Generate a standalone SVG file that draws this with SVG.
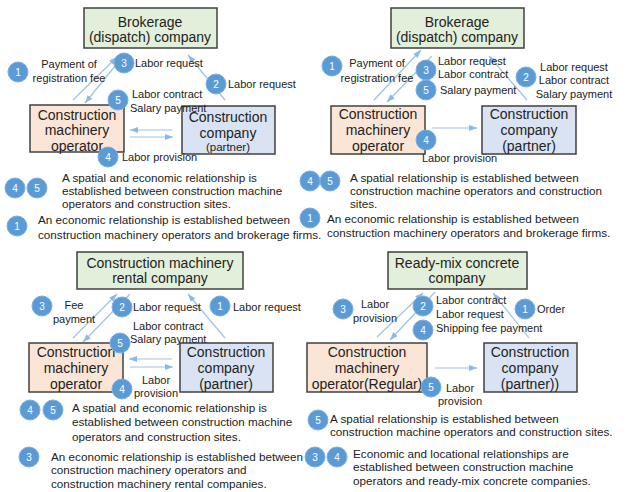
<svg xmlns="http://www.w3.org/2000/svg" width="628" height="492" viewBox="0 0 628 492">
<style>
text{font-family:"Liberation Sans",Arial,sans-serif;fill:#222}
.box{stroke:#404040;stroke-width:1.5}
.g{fill:#e2efda}.o{fill:#fbe5d6}.b{fill:#dae3f3}
.t{font-size:14px;text-anchor:middle}
.s{font-size:11.5px;text-anchor:middle}
.l{font-size:11px}
.n{font-size:11.7px}
.m{font-size:11px;text-anchor:middle}
.arr{stroke:#9dc3e6;stroke-width:1.2;fill:none;marker-end:url(#ah)}
.bd circle{fill:#5b9bd5;stroke:#7aaee0;stroke-width:1}
.bd text{fill:#fff;font-size:10px;text-anchor:middle}
</style>
<defs>
<marker id="ah" markerUnits="userSpaceOnUse" markerWidth="8" markerHeight="6" refX="8" refY="3" orient="auto">
<path d="M0,0 L8,3 L0,6 z" fill="#8db9e3"/>
</marker>
</defs>
<rect width="628" height="492" fill="#fff"/>

<g id="connectors">
<line class="arr" x1="73" y1="100" x2="117" y2="57"/>
<line class="arr" x1="120" y1="60" x2="85" y2="103"/>
<line class="arr" x1="225" y1="100" x2="188" y2="55"/>
<line class="arr" x1="172" y1="130" x2="130" y2="130"/>
<line class="arr" x1="130" y1="137" x2="173" y2="137"/>

<line class="arr" x1="374" y1="100" x2="421" y2="50"/>
<line class="arr" x1="432" y1="56" x2="387" y2="102"/>
<line class="arr" x1="527" y1="100" x2="489" y2="56"/>
<line class="arr" x1="432" y1="128" x2="477" y2="128"/>

<line class="arr" x1="73" y1="338" x2="117" y2="294"/>
<line class="arr" x1="130" y1="294" x2="83" y2="342"/>
<line class="arr" x1="225" y1="338" x2="188" y2="294"/>
<line class="arr" x1="172" y1="359" x2="129" y2="359"/>
<line class="arr" x1="130" y1="367" x2="173" y2="367"/>

<line class="arr" x1="377" y1="337" x2="423" y2="293"/>
<line class="arr" x1="435" y1="292" x2="390" y2="340"/>
<line class="arr" x1="529" y1="338" x2="493" y2="293"/>
<line class="arr" x1="435" y1="368" x2="477" y2="368"/>
</g>

<!-- Quadrant 1 -->
<g id="q1-brokerage"><rect class="box g" x="84" y="8" width="133" height="40"/>
<text class="t" x="150" y="27">Brokerage</text><text class="t" x="150" y="42">(dispatch) company</text></g>
<g id="q1-operator"><rect class="box o" x="30" y="105" width="94" height="47"/>
<text class="t" x="77" y="120">Construction</text><text class="t" x="77" y="135">machinery</text><text class="t" x="77" y="151">operator</text></g>
<g id="q1-company"><rect class="box b" x="182" y="106" width="93" height="48"/>
<text class="t" x="228" y="122">Construction</text><text class="t" x="228" y="138">company</text><text class="s" x="228" y="151">(partner)</text></g>
<g id="q1-labels">
<text class="m" x="69" y="68">Payment of</text><text class="m" x="69" y="82">registration fee</text>
<text class="l" x="135" y="67">Labor request</text>
<text class="l" x="228" y="88">Labor request</text>
<text class="l" x="132" y="98">Labor contract</text><text class="l" x="130" y="112">Salary payment</text>
<text class="l" x="122" y="161">Labor provision</text>
<text class="n" x="62" y="182">A spatial and economic relationship is</text>
<text class="n" x="62" y="195">established between construction machine</text>
<text class="n" x="62" y="208">operators and construction sites.</text>
<text class="n" x="38" y="224">An economic relationship is established between</text>
<text class="n" x="38" y="239">construction machinery operators and brokerage firms.</text>
</g>

<!-- Quadrant 2 -->
<g id="q2-brokerage"><rect class="box g" x="391" y="8" width="133" height="40"/>
<text class="t" x="457" y="27">Brokerage</text><text class="t" x="457" y="42">(dispatch) company</text></g>
<g id="q2-operator"><rect class="box o" x="331" y="106" width="94" height="48"/>
<text class="t" x="378" y="119">Construction</text><text class="t" x="378" y="135">machinery</text><text class="t" x="378" y="151">operator</text></g>
<g id="q2-company"><rect class="box b" x="482" y="106" width="94" height="48"/>
<text class="t" x="529" y="119">Construction</text><text class="t" x="529" y="135">company</text><text class="t" x="529" y="151">(partner)</text></g>
<g id="q2-labels">
<text class="m" x="377" y="67">Payment of</text><text class="m" x="377" y="82">registration fee</text>
<text class="l" x="438" y="65">Labor request</text><text class="l" x="438" y="78">Labor contract</text>
<text class="l" x="440" y="94">Salary payment</text>
<text class="m" x="574" y="71">Labor request</text><text class="m" x="574" y="84">Labor contract</text><text class="m" x="574" y="98">Salary payment</text>
<text class="l" x="422" y="162">Labor provision</text>
<text class="n" x="350" y="182">A spatial relationship is established between</text>
<text class="n" x="350" y="195">construction machine operators and construction</text>
<text class="n" x="350" y="208">sites.</text>
<text class="n" x="327" y="223">An economic relationship is established between</text>
<text class="n" x="327" y="237">construction machinery operators and brokerage firms.</text>
</g>

<!-- Quadrant 3 -->
<g id="q3-rental"><rect class="box g" x="77" y="252" width="166" height="37"/>
<text class="t" x="160" y="268">Construction machinery</text><text class="t" x="160" y="283">rental company</text></g>
<g id="q3-operator"><rect class="box o" x="29" y="343" width="94" height="49"/>
<text class="t" x="76" y="357">Construction</text><text class="t" x="76" y="373">machinery</text><text class="t" x="76" y="389">operator</text></g>
<g id="q3-company"><rect class="box b" x="180" y="343" width="93" height="49"/>
<text class="t" x="226" y="357">Construction</text><text class="t" x="226" y="373">company</text><text class="t" x="226" y="389">(partner)</text></g>
<g id="q3-labels">
<text class="m" x="74" y="309">Fee</text><text class="m" x="74" y="323">payment</text>
<text class="l" x="133" y="311">Labor request</text>
<text class="l" x="233" y="311">Labor request</text>
<text class="l" x="133" y="330">Labor contract</text><text class="l" x="130" y="343">Salary payment</text>
<text class="m" x="156" y="384">Labor</text><text class="m" x="156" y="397">provision</text>
<text class="n" x="72" y="412">A spatial and economic relationship is</text>
<text class="n" x="72" y="426">established between construction machine</text>
<text class="n" x="72" y="441">operators and construction sites.</text>
<text class="n" x="51" y="461">An economic relationship is established between</text>
<text class="n" x="51" y="474">construction machinery operators and</text>
<text class="n" x="51" y="488">construction machinery rental companies.</text>
</g>

<!-- Quadrant 4 -->
<g id="q4-readymix"><rect class="box g" x="388" y="252" width="139" height="37"/>
<text class="t" x="457" y="268">Ready-mix concrete</text><text class="t" x="457" y="283">company</text></g>
<g id="q4-operator"><rect class="box o" x="307" y="343" width="120" height="49"/>
<text class="t" x="367" y="357">Construction</text><text class="t" x="367" y="373">machinery</text><text class="t" x="367" y="389">operator(Regular)</text></g>
<g id="q4-company"><rect class="box b" x="484" y="343" width="93" height="49"/>
<text class="t" x="530" y="357">Construction</text><text class="t" x="530" y="373">company</text><text class="t" x="530" y="389">(partner))</text></g>
<g id="q4-labels">
<text class="m" x="375" y="308">Labor</text><text class="m" x="375" y="322">provision</text>
<text class="l" x="436" y="304">Labor contract</text><text class="l" x="436" y="318">Labor request</text>
<text class="l" x="436" y="332">Shipping fee payment</text>
<text class="l" x="537" y="313">Order</text>
<text class="m" x="460" y="392">Labor</text><text class="m" x="460" y="405">provision</text>
<text class="n" x="330" y="423">A spatial relationship is established between</text>
<text class="n" x="330" y="436">construction machine operators and construction sites.</text>
<text class="n" x="353" y="458">Economic and locational relationships are</text>
<text class="n" x="353" y="471">established between construction machine</text>
<text class="n" x="353" y="485">operators and ready-mix concrete companies.</text>
</g>

<g id="badges" class="bd">
<circle cx="18" cy="72" r="10"/><text x="18" y="76">1</text>
<circle cx="124" cy="63" r="10"/><text x="124" y="67">3</text>
<circle cx="216" cy="84" r="10"/><text x="216" y="88">2</text>
<circle cx="118" cy="100" r="10"/><text x="118" y="104">5</text>
<circle cx="108" cy="157" r="10"/><text x="108" y="161">4</text>
<circle cx="15" cy="188" r="10"/><text x="15" y="192">4</text>
<circle cx="37" cy="188" r="10"/><text x="37" y="192">5</text>
<circle cx="17" cy="226" r="10"/><text x="17" y="230">1</text>

<circle cx="332" cy="66" r="10"/><text x="332" y="70">1</text>
<circle cx="426" cy="70" r="10"/><text x="426" y="74">3</text>
<circle cx="426" cy="90" r="10"/><text x="426" y="94">5</text>
<circle cx="526" cy="77" r="10"/><text x="526" y="81">2</text>
<circle cx="426" cy="140" r="10"/><text x="426" y="144">4</text>
<circle cx="310" cy="181" r="10"/><text x="310" y="185">4</text>
<circle cx="330" cy="181" r="10"/><text x="330" y="185">5</text>
<circle cx="310" cy="218" r="10"/><text x="310" y="222">1</text>

<circle cx="42" cy="306" r="10"/><text x="42" y="310">3</text>
<circle cx="122" cy="307" r="10"/><text x="122" y="311">2</text>
<circle cx="220" cy="306" r="10"/><text x="220" y="310">1</text>
<circle cx="120" cy="343" r="10"/><text x="120" y="347">5</text>
<circle cx="122" cy="389" r="10"/><text x="122" y="393">4</text>
<circle cx="30" cy="410" r="10"/><text x="30" y="414">4</text>
<circle cx="53" cy="410" r="10"/><text x="53" y="414">5</text>
<circle cx="29" cy="457" r="10"/><text x="29" y="461">3</text>

<circle cx="343" cy="309" r="10"/><text x="343" y="313">3</text>
<circle cx="423" cy="306" r="10"/><text x="423" y="310">2</text>
<circle cx="423" cy="330" r="10"/><text x="423" y="334">4</text>
<circle cx="525" cy="309" r="10"/><text x="525" y="313">1</text>
<circle cx="431" cy="387" r="10"/><text x="431" y="391">5</text>
<circle cx="318" cy="420" r="10"/><text x="318" y="424">5</text>
<circle cx="315" cy="457" r="10"/><text x="315" y="461">3</text>
<circle cx="337" cy="457" r="10"/><text x="337" y="461">4</text>
</g>
</svg>
